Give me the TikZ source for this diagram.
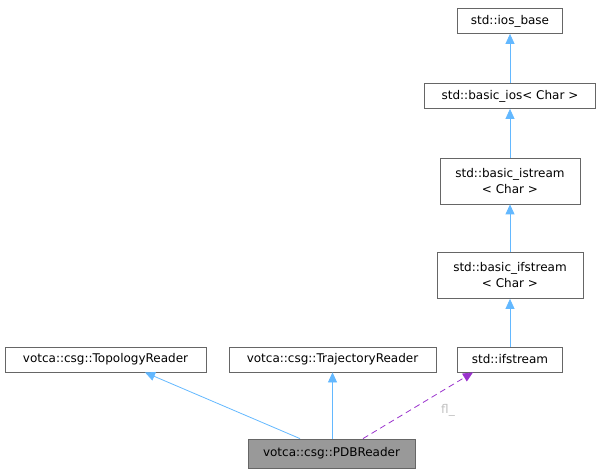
\documentclass[tikz,border=0pt]{standalone}
\usepackage{fontspec}
\setmainfont{DejaVu Sans}
\usetikzlibrary{arrows.meta}
\definecolor{edgeblue}{HTML}{63B8FF}
\definecolor{edgepurple}{HTML}{9A32CD}
\definecolor{boxgray}{HTML}{666666}
\definecolor{fillgray}{HTML}{999999}
\definecolor{labelgray}{HTML}{C0C0C0}
\begin{document}
\begin{tikzpicture}[x=1pt,y=-1pt,
  cls/.style={draw=boxgray, line width=0.8pt, fill=white, font=\fontsize{12}{16}\selectfont, align=center, inner sep=0pt, minimum height=25pt},
  cls2/.style={cls, minimum height=46pt},
  inh/.style={draw=edgeblue, line width=0.8pt, -{Triangle[length=10pt,width=9pt,fill=edgeblue]}},
  use/.style={draw=edgepurple, line width=0.8pt, dashed, dash pattern=on 6pt off 4pt, -{Triangle[length=10pt,width=9pt,fill=edgepurple]}}]
\useasboundingbox (0,0) rectangle (600,473);
\node[cls, minimum width=105pt] (iosbase) at (510,21) {std::ios\_base};
\node[cls, minimum width=171pt] (basicios) at (510,96) {std::basic\_ios< Char >};
\node[cls2, minimum width=140pt] (istream) at (510,181) {std::basic\_istream\\< Char >};
\node[cls2, minimum width=146pt] (bifstream) at (510,275.5) {std::basic\_ifstream\\< Char >};
\node[cls, minimum width=105pt] (ifstream) at (510,359.5) {std::ifstream};
\node[cls, minimum width=201pt] (topo) at (105.5,359.5) {votca::csg::TopologyReader};
\node[cls, minimum width=207pt] (traj) at (332.5,359.5) {votca::csg::TrajectoryReader};
\node[cls, fill=fillgray, minimum width=167pt, minimum height=29pt] (pdb) at (331.5,453.5) {votca::csg::PDBReader};
\draw[inh] (basicios) -- (iosbase);
\draw[inh] (istream) -- (basicios);
\draw[inh] (bifstream) -- (istream);
\draw[inh] (ifstream) -- (bifstream);
\draw[inh] (pdb.north -| 300,0) -- (topo.south -| 145,0);
\draw[inh] (pdb.north -| 332.5,0) -- (traj.south);
\draw[use] (pdb.north -| 363,0) -- (ifstream.south -| 473,0);
\node[text=labelgray, font=\fontsize{12}{14}\selectfont, inner sep=0pt] (fl) at (448,410) {fl\_};
\end{tikzpicture}
\end{document}
